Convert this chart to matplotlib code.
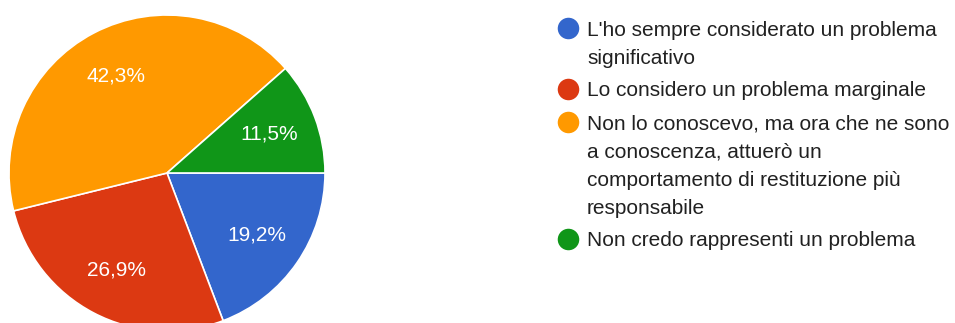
import matplotlib
matplotlib.use("Agg")
import matplotlib.pyplot as plt

# Survey answers and their shares (percent)
categories = [
    "L'ho sempre considerato un problema\nsignificativo",
    "Lo considero un problema marginale",
    "Non lo conoscevo, ma ora che ne sono\na conoscenza, attuerò un\ncomportamento di restituzione più\nresponsabile",
    "Non credo rappresenti un problema",
]
shares = [19.2, 26.9, 42.3, 11.5]
colors = ["#3366CC", "#DC3912", "#FF9900", "#109618"]

W, H = 955, 323
fig = plt.figure(figsize=(W / 100, H / 100), dpi=100)
ax = fig.add_axes([0, 0, 1, 1])

wedges, texts, autotexts = ax.pie(
    shares,
    colors=colors,
    startangle=0,
    counterclock=False,
    center=(167, H - 173),
    radius=158,
    autopct=lambda p: f"{p:.1f}%".replace(".", ","),
    pctdistance=0.69,
    wedgeprops=dict(edgecolor="white", linewidth=1.2),
    textprops=dict(color="white", fontsize=15, family="Liberation Sans"),
)
ax.set_xlim(0, W)
ax.set_ylim(0, H)
ax.set_aspect("auto")
ax.axis("off")

# Legend drawn as circle markers plus wrapped labels
line_step = 28
item_gap = 33
y = 28
for label, color in zip(categories, colors):
    lines = label.split("\n")
    ax.plot([568], [H - y], marker="o", markersize=15.5, color=color,
            markeredgewidth=0, linestyle="none", clip_on=False)
    for i, line in enumerate(lines):
        ax.text(587, H - (y + i * line_step), line, fontsize=15,
                family="Liberation Sans", color="#212121",
                ha="left", va="center_baseline")
    y += (len(lines) - 1) * line_step + item_gap

fig.savefig("out.png", dpi=100)
